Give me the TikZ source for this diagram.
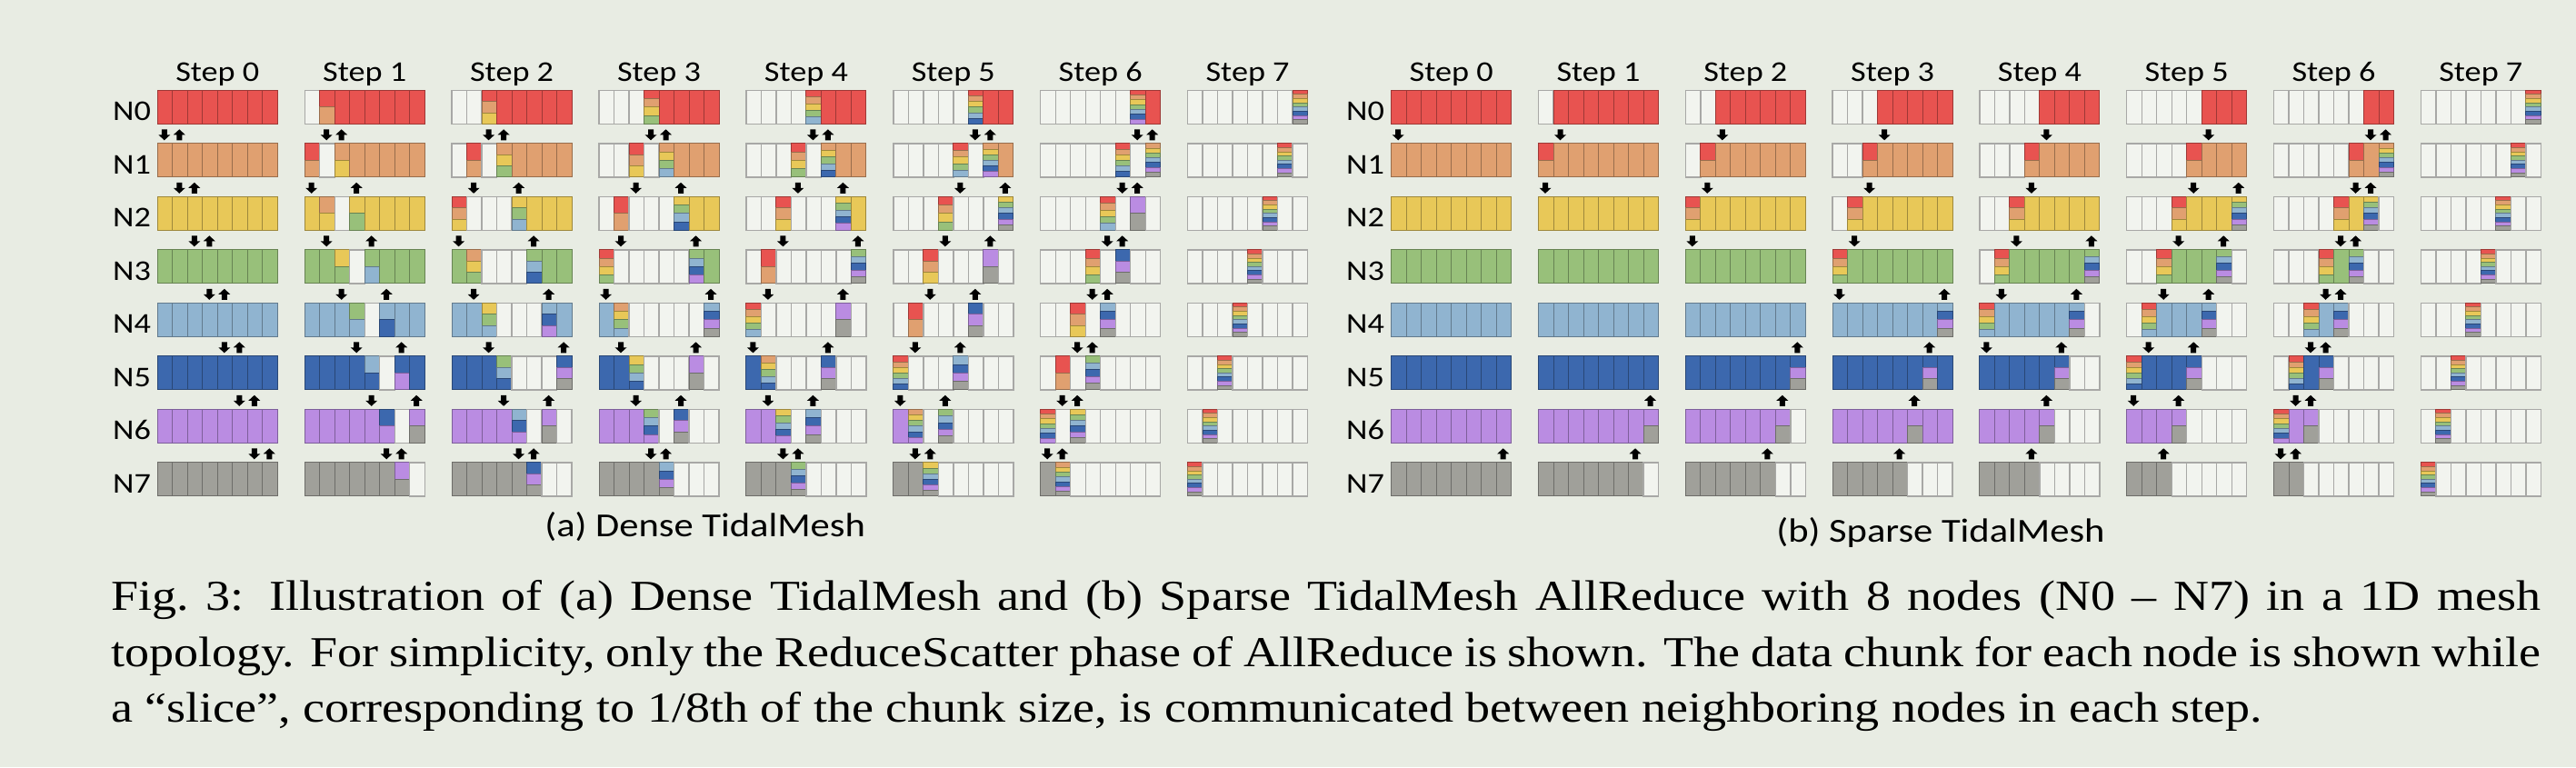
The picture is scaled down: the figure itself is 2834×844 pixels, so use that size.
\documentclass[tikz,border=0pt]{standalone}
\usepackage{fontspec}
\setmainfont{Liberation Serif}[FakeStretch=1.15]
\newfontfamily\figfont{Carlito}[FakeStretch=1.15]

\definecolor{bgcol}{HTML}{E8ECE3}
\definecolor{c0}{HTML}{E85350}
\definecolor{c1}{HTML}{E0A070}
\definecolor{c2}{HTML}{E8C858}
\definecolor{c3}{HTML}{98C07A}
\definecolor{c4}{HTML}{90B4D0}
\definecolor{c5}{HTML}{3C68AE}
\definecolor{c6}{HTML}{BA8CE2}
\definecolor{c7}{HTML}{A0A09A}
\definecolor{emptycol}{HTML}{F2F4EF}
\definecolor{emptyline}{HTML}{A8A8A6}

\def\xtok{x}
\def\otok{o}
\def\getrange#1#2\relax{\def\slo{#1}\def\shi{#2}}

% one slice: x, y, node, token (x = empty, o = own data, ab = data of nodes a..b)
\newcommand\drawslice[4]{%
  \edef\tok{#4}%
  \ifx\tok\xtok
    \draw[emptyslice] (#1,#2) rectangle ++(16.5,37);%
  \else
    \ifx\tok\otok\edef\slo{#3}\edef\shi{#3}\else\expandafter\getrange\tok\relax\fi
    \pgfmathsetmacro\sliceh{37/(\shi-\slo+1)}%
    \foreach \k in {\slo,...,\shi}{%
      \pgfmathsetmacro\yy{#2+(\k-\slo)*\sliceh}%
      \draw[fullslice,fill=c\k,draw=c\k!68!black] (#1,\yy) rectangle ++(16.5,\sliceh);}%
  \fi}

% one step: left x, then the rows N0..N7
\newcommand\meshpanel[9]{%
  \foreach \row [count=\ri from 0] in {{#2},{#3},{#4},{#5},{#6},{#7},{#8},{#9}}{%
    \foreach \cell [count=\ci from 0] in \row {%
      \drawslice{#1+16.5*\ci}{99.3+58.5*\ri}{\ri}{\cell}}}}

\begin{document}
\begin{tikzpicture}[x=1pt,y=-1pt]
\tikzstyle{emptyslice}=[fill=emptycol,draw=emptyline,line width=1.4]
\tikzstyle{fullslice}=[line width=0.9]
\tikzstyle{rowlabel}=[font={\figfont\fontsize{31.5}{36}\selectfont},anchor=base,inner sep=0]
\tikzstyle{steplabel}=[rowlabel]
\tikzstyle{sublabel}=[font={\figfont\fontsize{37}{42}\selectfont},anchor=base,inner sep=0]
\tikzstyle{capline}=[font={\fontsize{47}{56}\selectfont},anchor=base west,inner sep=0]
\tikzset{
  dnarrow/.pic={\fill (-3,-6) -- (3,-6) -- (3,0) -- (6.5,0) -- (0,6) -- (-6.5,0) -- (-3,0) -- cycle;},
  uparrow/.pic={\fill (-3,6) -- (3,6) -- (3,0) -- (6.5,0) -- (0,-6) -- (-6.5,0) -- (-3,0) -- cycle;}}

\useasboundingbox (0,0) rectangle (2834,844);
\fill[bgcol] (0,0) rectangle (2834,844);

\foreach \ri in {0,...,7}{
  \node[rowlabel] (dn\ri) at (145,{132.7+58.5*\ri}) {N\ri};
  \node[rowlabel] (sn\ri) at (1502,{132.7+58.5*\ri}) {N\ri};
  \node[steplabel] (dstep\ri) at ({239.3+161.9*\ri},89.3) {Step \ri};
  \node[steplabel] (sstep\ri) at ({1596.7+161.8*\ri},89.3) {Step \ri};
}

% (a) dense
\meshpanel{173.3}{o,o,o,o,o,o,o,o}{o,o,o,o,o,o,o,o}{o,o,o,o,o,o,o,o}{o,o,o,o,o,o,o,o}
  {o,o,o,o,o,o,o,o}{o,o,o,o,o,o,o,o}{o,o,o,o,o,o,o,o}{o,o,o,o,o,o,o,o}
\meshpanel{335.2}{x,01,o,o,o,o,o,o}{01,x,12,o,o,o,o,o}{o,12,x,23,o,o,o,o}{o,o,23,x,34,o,o,o}
  {o,o,o,34,x,45,o,o}{o,o,o,o,45,x,56,o}{o,o,o,o,o,56,x,67}{o,o,o,o,o,o,67,x}
\meshpanel{497.1}{x,x,02,o,o,o,o,o}{x,01,x,13,o,o,o,o}{02,x,x,x,24,o,o,o}{o,13,x,x,x,35,o,o}
  {o,o,24,x,x,x,46,o}{o,o,o,35,x,x,x,57}{o,o,o,o,46,x,67,x}{o,o,o,o,o,57,x,x}
\meshpanel{659.0}{x,x,x,03,o,o,o,o}{x,x,02,x,14,o,o,o}{x,01,x,x,x,25,o,o}{03,x,x,x,x,x,36,o}
  {o,14,x,x,x,x,x,47}{o,o,25,x,x,x,67,x}{o,o,o,36,x,57,x,x}{o,o,o,o,47,x,x,x}
\meshpanel{820.9}{x,x,x,x,04,o,o,o}{x,x,x,03,x,15,o,o}{x,x,02,x,x,x,26,o}{x,01,x,x,x,x,x,37}
  {04,x,x,x,x,x,67,x}{o,15,x,x,x,57,x,x}{o,o,26,x,47,x,x,x}{o,o,o,37,x,x,x,x}
\meshpanel{982.8}{x,x,x,x,x,05,o,o}{x,x,x,x,04,x,16,o}{x,x,x,03,x,x,x,27}{x,x,02,x,x,x,67,x}
  {x,01,x,x,x,57,x,x}{05,x,x,x,47,x,x,x}{o,16,x,37,x,x,x,x}{o,o,27,x,x,x,x,x}
\meshpanel{1144.7}{x,x,x,x,x,x,06,o}{x,x,x,x,x,05,x,17}{x,x,x,x,04,x,67,x}{x,x,x,03,x,57,x,x}
  {x,x,02,x,47,x,x,x}{x,01,x,37,x,x,x,x}{06,x,27,x,x,x,x,x}{o,17,x,x,x,x,x,x}
\meshpanel{1306.6}{x,x,x,x,x,x,x,07}{x,x,x,x,x,x,07,x}{x,x,x,x,x,07,x,x}{x,x,x,x,07,x,x,x}
  {x,x,x,07,x,x,x,x}{x,x,07,x,x,x,x,x}{x,07,x,x,x,x,x,x}{07,x,x,x,x,x,x,x}

% (b) sparse
\meshpanel{1530.7}{o,o,o,o,o,o,o,o}{o,o,o,o,o,o,o,o}{o,o,o,o,o,o,o,o}{o,o,o,o,o,o,o,o}
  {o,o,o,o,o,o,o,o}{o,o,o,o,o,o,o,o}{o,o,o,o,o,o,o,o}{o,o,o,o,o,o,o,o}
\meshpanel{1692.5}{x,o,o,o,o,o,o,o}{01,o,o,o,o,o,o,o}{o,o,o,o,o,o,o,o}{o,o,o,o,o,o,o,o}
  {o,o,o,o,o,o,o,o}{o,o,o,o,o,o,o,o}{o,o,o,o,o,o,o,67}{o,o,o,o,o,o,o,x}
\meshpanel{1854.3}{x,x,o,o,o,o,o,o}{x,01,o,o,o,o,o,o}{02,o,o,o,o,o,o,o}{o,o,o,o,o,o,o,o}
  {o,o,o,o,o,o,o,o}{o,o,o,o,o,o,o,57}{o,o,o,o,o,o,67,x}{o,o,o,o,o,o,x,x}
\meshpanel{2016.1}{x,x,x,o,o,o,o,o}{x,x,01,o,o,o,o,o}{x,02,o,o,o,o,o,o}{03,o,o,o,o,o,o,o}
  {o,o,o,o,o,o,o,47}{o,o,o,o,o,o,57,o}{o,o,o,o,o,67,o,o}{o,o,o,o,o,x,x,x}
\meshpanel{2177.9}{x,x,x,x,o,o,o,o}{x,x,x,01,o,o,o,o}{x,x,02,o,o,o,o,o}{x,03,o,o,o,o,o,37}
  {04,o,o,o,o,o,47,x}{o,o,o,o,o,57,x,x}{o,o,o,o,67,x,x,x}{o,o,o,o,x,x,x,x}
\meshpanel{2339.7}{x,x,x,x,x,o,o,o}{x,x,x,x,01,o,o,o}{x,x,x,02,o,o,o,27}{x,x,03,o,o,o,37,x}
  {x,04,o,o,o,47,x,x}{05,o,o,o,57,x,x,x}{o,o,o,67,x,x,x,x}{o,o,o,x,x,x,x,x}
\meshpanel{2501.5}{x,x,x,x,x,x,o,o}{x,x,x,x,x,01,o,17}{x,x,x,x,02,o,27,x}{x,x,x,03,o,37,x,x}
  {x,x,04,o,47,x,x,x}{x,05,o,57,x,x,x,x}{06,o,67,x,x,x,x,x}{o,o,x,x,x,x,x,x}
\meshpanel{2663.3}{x,x,x,x,x,x,x,07}{x,x,x,x,x,x,07,x}{x,x,x,x,x,07,x,x}{x,x,x,x,07,x,x,x}
  {x,x,x,07,x,x,x,x}{x,x,07,x,x,x,x,x}{x,07,x,x,x,x,x,x}{07,x,x,x,x,x,x,x}

% slices sent between neighbours
\foreach \st in {0,...,6}{
  \foreach \gi in {0,...,6}{
    \pgfmathsetmacro\dc{abs(\st-\gi)}
    \pgfmathsetmacro\uc{7-abs(\gi+\st-6)}
    \pic at ({180.8+161.9*\st+16.5*\dc},{148.3+58.5*\gi}) {dnarrow};
    \pic at ({180.8+161.9*\st+16.5*\uc},{148.3+58.5*\gi}) {uparrow};
  }
  \foreach \gi in {0,...,\st}{
    \pic at ({1538.2+161.8*\st+16.5*(\st-\gi)},{148.3+58.5*\gi}) {dnarrow};
  }
  \pgfmathtruncatemacro\lo{6-\st}
  \foreach \gi in {\lo,...,6}{
    \pic at ({1538.2+161.8*\st+16.5*(13-\st-\gi)},{148.3+58.5*\gi}) {uparrow};
  }
}

\node[sublabel] (densecap) at (775.7,590.7) {(a) Dense TidalMesh};
\node[sublabel] (sparsecap) at (2135,596.7) {(b) Sparse TidalMesh};

\node[capline] (cap1) at (122,671.5) {\makebox[2673pt][s]{Fig.\ 3: Illustration of (a) Dense TidalMesh and (b) Sparse TidalMesh AllReduce with 8 nodes (N0 – N7) in a 1D mesh}};
\node[capline] (cap2) at (122,733) {\makebox[2673pt][s]{topology. For simplicity, only the ReduceScatter phase of AllReduce is shown. The data chunk for each node is shown while}};
\node[capline] (cap3) at (122,794.5) {a “slice”, corresponding to 1/8th of the chunk size, is communicated between neighboring nodes in each step.};
\end{tikzpicture}
\end{document}
